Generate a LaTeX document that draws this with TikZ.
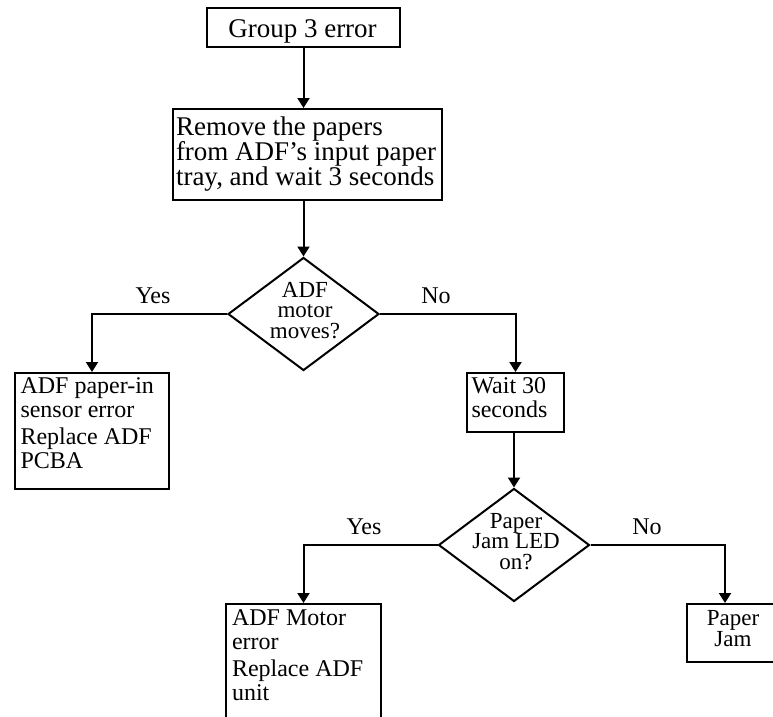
\documentclass[tikz,border=0pt]{standalone}
\usepackage{fontspec}
\setmainfont{Liberation Serif}
\usetikzlibrary{arrows.meta,shapes.geometric}
\begin{document}
\begin{tikzpicture}[x=1pt,y=-1pt,
  line width=2pt,
  box/.style={draw, line width=2pt, inner sep=0pt, anchor=north west},
  decision/.style={draw, shape=diamond, line width=2pt, inner sep=0pt,
    minimum width=151pt, minimum height=113pt},
  big/.style={inner sep=0pt, font=\fontsize{27}{25}\selectfont},
  mid/.style={inner sep=0pt, font=\fontsize{24}{24}\selectfont},
  small/.style={inner sep=0pt, font=\fontsize{23}{20.5}\selectfont},
  arr/.style={-{Triangle[width=12pt,length=10pt]}, line width=2pt}]
\useasboundingbox (0,0) rectangle (773,716);
\clip (0,0) rectangle (773,716);

% boxes and decisions
\node[box, minimum width=193pt, minimum height=39pt] (start) at (206,7) {};
\node[box, minimum width=269pt, minimum height=91pt] (remove) at (172,108) {};
\node[decision] (q1) at (303.5,314) {};
\node[box, minimum width=154pt, minimum height=116pt] (sensor) at (14,372) {};
\node[box, minimum width=97pt, minimum height=59pt] (wait) at (466,372) {};
\node[decision] (q2) at (514,545) {};
\node[box, minimum width=155pt, minimum height=116pt] (motorerr) at (225,603) {};
\node[box, minimum width=94pt, minimum height=58pt] (paperjam) at (686,603) {};
\coordinate (pjin) at (725,603);

% texts
\node[big, anchor=base] (tstart) at (302.5,37) {Group 3 error};
\node[big, anchor=base west] (tremove) at (175,135)
  {\parbox[t]{262pt}{\raggedright Remove the papers\\from ADF’s input paper\\tray, and wait 3 seconds}};
\node[small, anchor=base] (tq1) at (305,297)
  {\parbox[t]{120pt}{\centering ADF\\motor\\moves?}};
\node[mid, anchor=base west] (tsensor) at (19.5,393)
  {\parbox[t]{148pt}{\raggedright ADF paper-in\\sensor error\\[3pt]Replace ADF\\PCBA}};
\node[mid, anchor=base west] (twait) at (470.5,393)
  {\parbox[t]{92pt}{\raggedright Wait 30\\seconds}};
\node[small, anchor=base] (tq2) at (516,528)
  {\parbox[t]{120pt}{\centering Paper\\Jam LED\\on?}};
\node[mid, anchor=base west] (tmotorerr) at (231,625)
  {\parbox[t]{148pt}{\raggedright ADF Motor\\error\\[3pt]Replace ADF\\unit}};
\node[small, anchor=base] (tpaperjam) at (733,625)
  {\parbox[t]{80pt}{\centering Paper\\[1pt]Jam}};

% branch labels
\node[mid, anchor=base] (yes1) at (153,303) {Yes};
\node[mid, anchor=base] (no1) at (436,303) {No};
\node[mid, anchor=base] (yes2) at (364,534) {Yes};
\node[mid, anchor=base] (no2) at (647,534) {No};

% connectors
\draw[arr] (start.south) -- (start.south |- remove.north);
\draw[arr] (q1.north |- remove.south) -- (q1.north);
\draw[arr] (q1.west) -| (sensor.north);
\draw[arr] (q1.east) -| (wait.north);
\draw[arr] (q2.north |- wait.south) -- (q2.north);
\draw[arr] (q2.west) -| (motorerr.north);
\draw[arr] (q2.east) -| (pjin);
\end{tikzpicture}
\end{document}
